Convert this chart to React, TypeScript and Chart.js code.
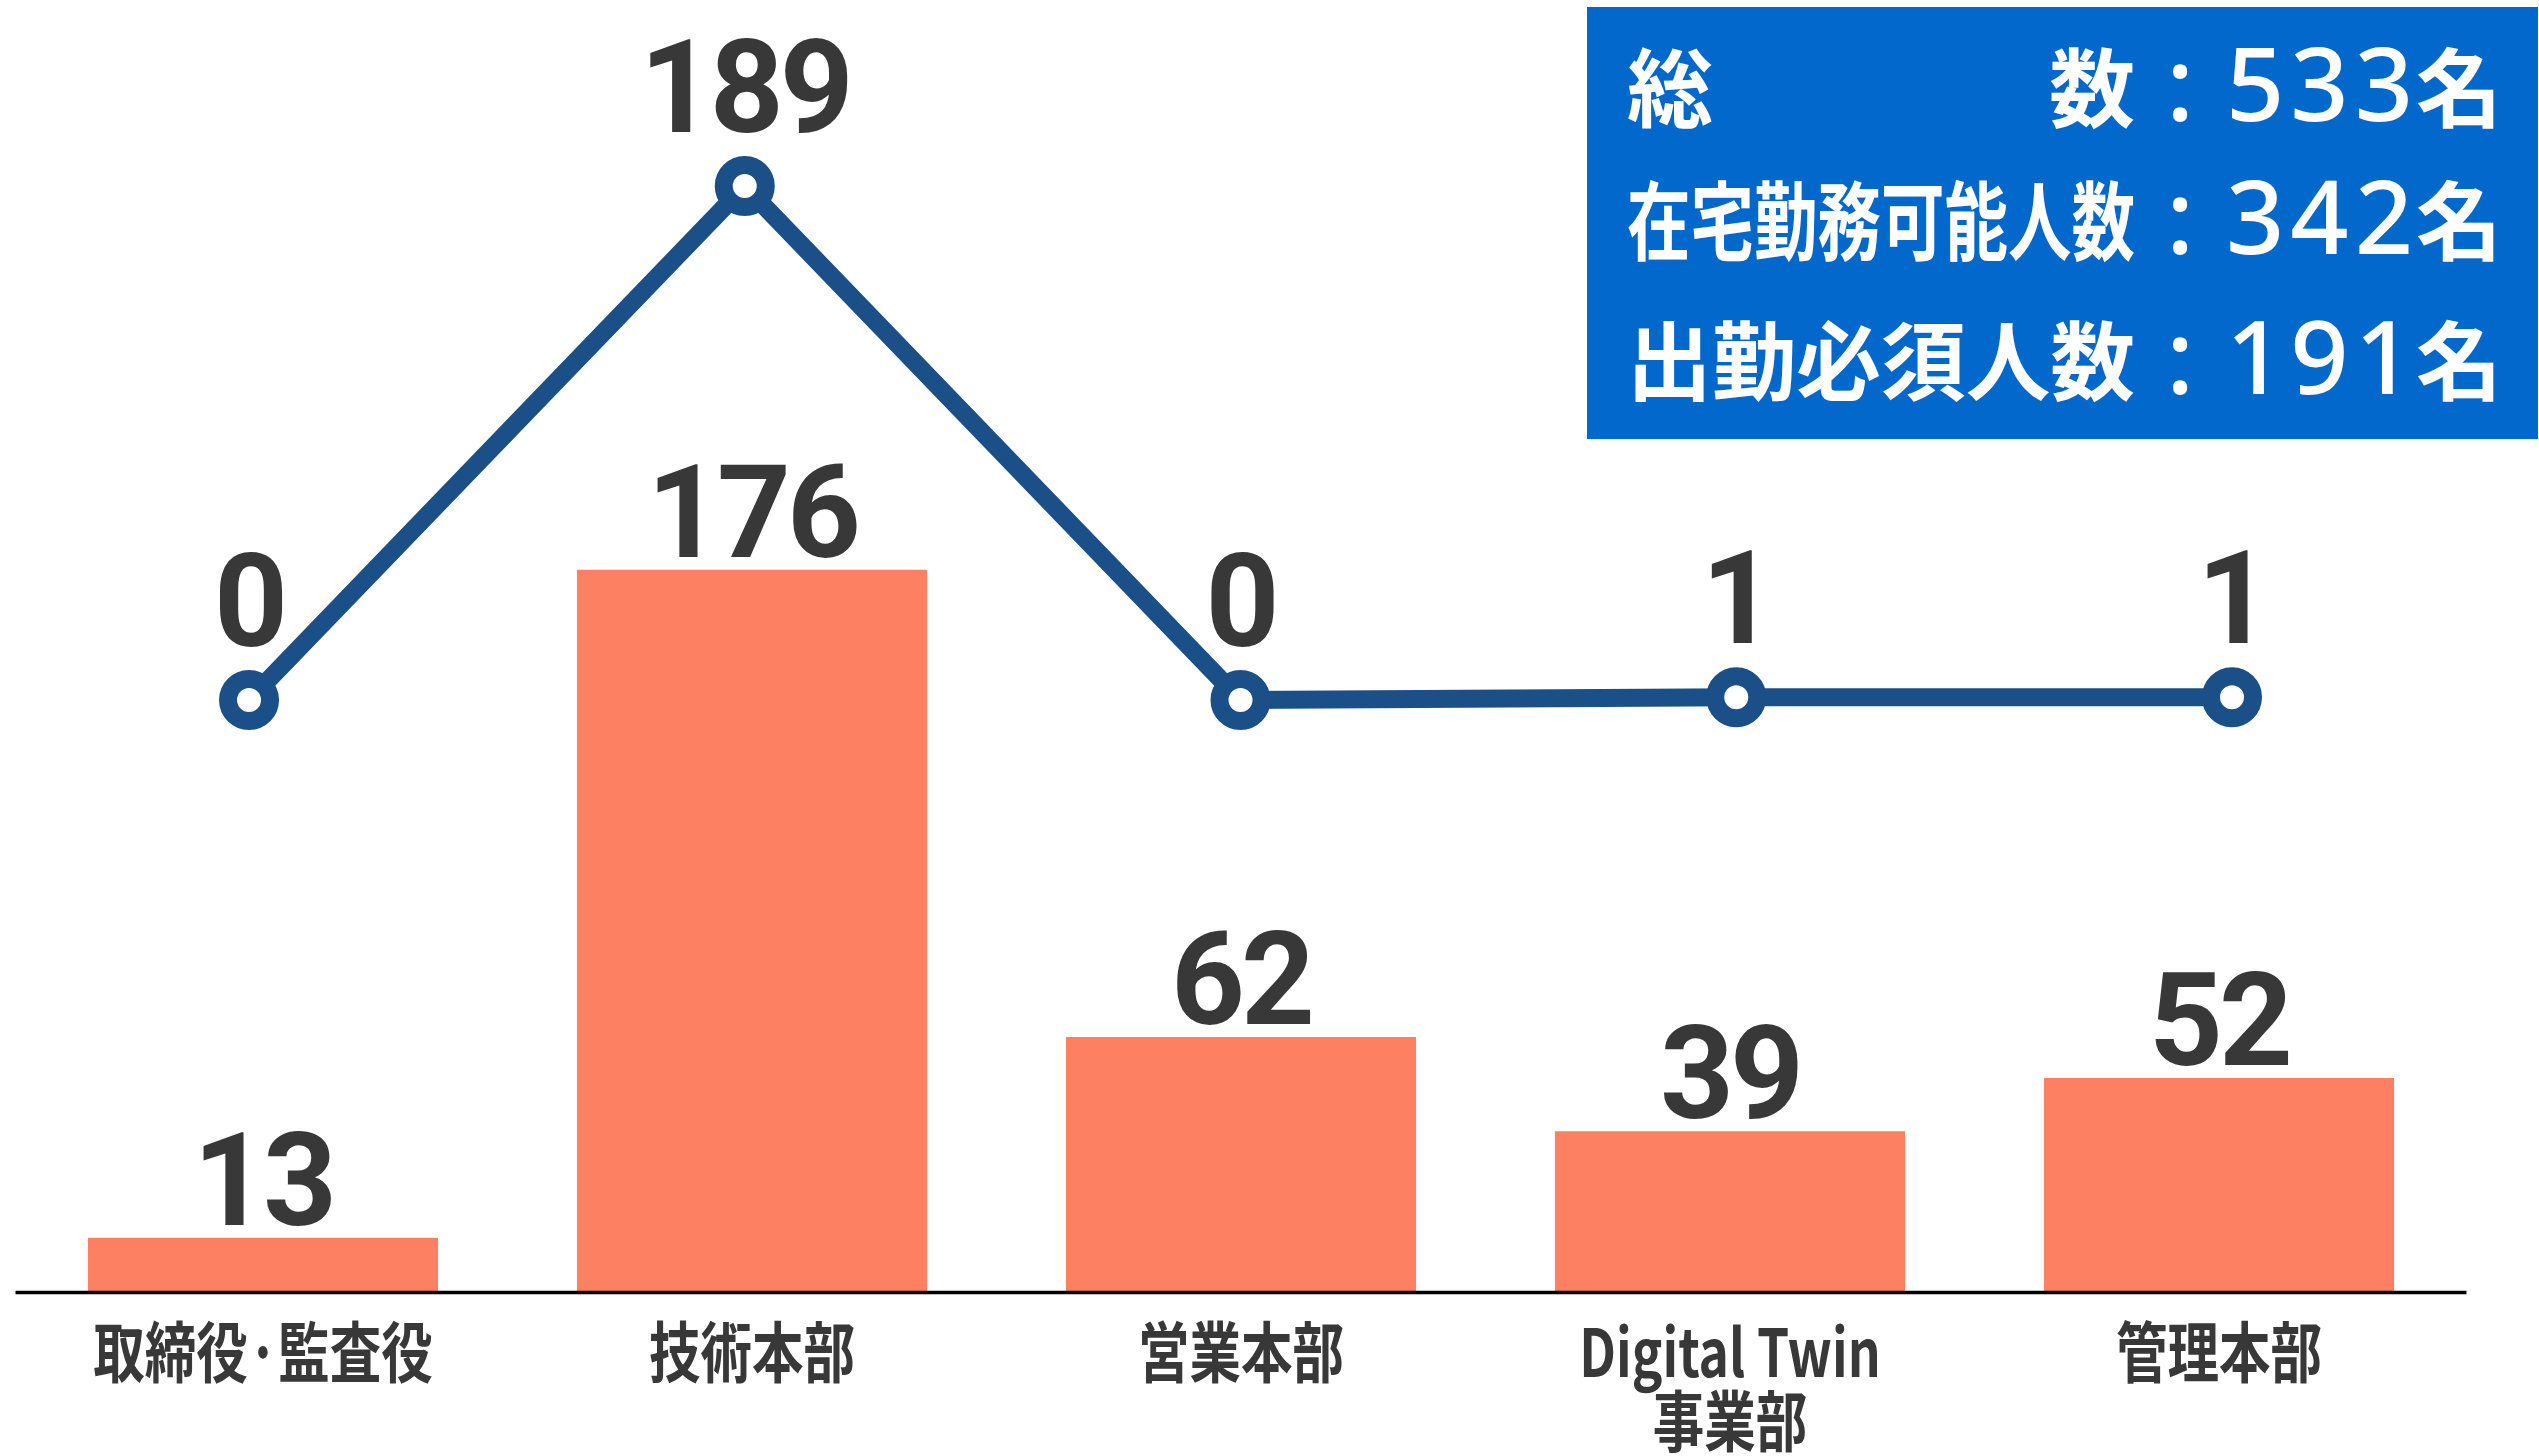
import React, { useEffect, useRef } from "react";
import { Chart, registerables } from "chart.js";

Chart.register(...registerables);

// ---- data ----
const categories: string[][] = [
  ["取締役·監査役"],
  ["技術本部"],
  ["営業本部"],
  ["Digital Twin", "事業部"],
  ["管理本部"],
];
const remoteCapable = [13, 176, 62, 39, 52]; // bars (在宅勤務可能人数)
const onsiteRequired = [0, 189, 0, 1, 1]; // line (出勤必須人数)
const summaryLabels = ["総数", "在宅勤務可能人数", "出勤必須人数"];
const summaryValues = [533, 342, 191];
const summaryUnit = "名";

// ---- styles ----
const BAR_COLOR = "#FD8062";
const LINE_COLOR = "#1A4F88";
const TEXT_COLOR = "#383838";
const BOX_COLOR = "#0368CC";
const NUM_FONT = "bold 129px Roboto, 'Noto Sans', sans-serif";
const TICK_FONT = "bold 66px 'Noto Sans CJK JP', sans-serif";
const BOX_CJK_FONT = "bold 86px 'Noto Sans CJK JP', sans-serif";
const BOX_NUM_FONT = "500 102px 'Noto Sans', 'Open Sans', sans-serif";

const overlayPlugin = {
  id: "overlay",
  afterDatasetsDraw(chart: any) {
    const ctx: CanvasRenderingContext2D = chart.ctx;
    const { left, right } = chart.chartArea;
    const y0 = chart.scales.y.getPixelForValue(0);
    ctx.save();
    // baseline axis
    ctx.strokeStyle = "#000";
    ctx.lineWidth = 3.5;
    ctx.beginPath();
    ctx.moveTo(left - 3, y0 + 1.5);
    ctx.lineTo(right + 3, y0 + 1.5);
    ctx.stroke();

    // value labels
    ctx.fillStyle = TEXT_COLOR;
    ctx.font = NUM_FONT;
    ctx.textAlign = "center";
    ctx.textBaseline = "alphabetic";
    (ctx as any).letterSpacing = "-4px";
    const barMeta = chart.getDatasetMeta(1);
    barMeta.data.forEach((el: any, i: number) => {
      ctx.fillText(String(remoteCapable[i]), el.x, el.y - 13);
    });
    const lineMeta = chart.getDatasetMeta(0);
    lineMeta.data.forEach((el: any, i: number) => {
      ctx.fillText(String(onsiteRequired[i]), el.x, el.y - 54);
    });
    (ctx as any).letterSpacing = "0px";

    // category labels
    ctx.font = TICK_FONT;
    ctx.textBaseline = "middle";
    const xs = chart.scales.x;
    categories.forEach((lines, i) => {
      const x = xs.getPixelForValue(i);
      lines.forEach((ln, j) => {
        const w = ctx.measureText(ln).width;
        ctx.fillText(ln, x, y0 + 61 + j * 69, w * 0.78);
      });
    });

    // summary box
    const W = chart.width;
    const bx = W - 952;
    const by = 7;
    ctx.fillStyle = BOX_COLOR;
    ctx.fillRect(bx, by, 951, 432);
    ctx.fillStyle = "#ffffff";
    const baselines = [114, 247, 387];
    const labelX = bx + 40;
    const labelW = 508;
    summaryLabels.forEach((lab, r) => {
      const yb = by + baselines[r];
      ctx.font = BOX_CJK_FONT;
      ctx.textBaseline = "alphabetic";
      const natural = ctx.measureText(lab).width;
      ctx.textAlign = "left";
      if (natural >= labelW) {
        ctx.fillText(lab, labelX, yb, labelW);
      } else {
        const chars = Array.from(lab);
        const widths = chars.map((c) => ctx.measureText(c).width);
        const gap = (labelW - natural) / (chars.length - 1);
        let cx = labelX;
        chars.forEach((c, k) => {
          ctx.fillText(c, cx, yb);
          cx += widths[k] + gap;
        });
      }
      // colon
      ctx.font = BOX_NUM_FONT;
      ctx.textAlign = "center";
      ctx.fillText(":", bx + 593, yb);
      // number
      ctx.textAlign = "left";
      (ctx as any).letterSpacing = "6px";
      ctx.fillText(String(summaryValues[r]), bx + 639, yb);
      (ctx as any).letterSpacing = "0px";
      // unit
      ctx.font = BOX_CJK_FONT;
      ctx.fillText(summaryUnit, bx + 829, yb);
    });
    ctx.restore();
  },
};

export default function App() {
  const ref = useRef<HTMLCanvasElement | null>(null);
  useEffect(() => {
    if (!ref.current) return;
    const chart = new Chart(ref.current, {
      type: "bar",
      data: {
        labels: categories.map((c) => c.join(" ")),
        datasets: [
          {
            type: "line",
            label: "出勤必須人数",
            data: onsiteRequired.map((v, i) => ({ x: i, y: v })),
            xAxisID: "x2",
            yAxisID: "y2",
            borderColor: LINE_COLOR,
            borderWidth: 18,
            pointRadius: 21,
            pointHoverRadius: 21,
            pointBorderWidth: 18,
            pointBackgroundColor: "#ffffff",
            pointBorderColor: LINE_COLOR,
            tension: 0,
            order: 0,
            clip: false,
          } as any,
          {
            type: "bar",
            label: "在宅勤務可能人数",
            data: remoteCapable,
            xAxisID: "x",
            yAxisID: "y",
            backgroundColor: BAR_COLOR,
            borderWidth: 0,
            grouped: false,
            categoryPercentage: 1,
            barPercentage: 0.716,
            order: 1,
          } as any,
        ],
      },
      options: {
        animation: false,
        responsive: true,
        maintainAspectRatio: false,
        layout: { autoPadding: false, padding: { left: 18.5, right: 75.5, top: 0, bottom: 165 } },
        plugins: { legend: { display: false }, tooltip: { enabled: false } },
        scales: {
          x: { type: "category", display: false, offset: true, grid: { display: false } },
          x2: { type: "linear", display: false, offset: false, min: -0.465, max: 4.467 },
          y: { display: false, min: 0, max: 315 },
          y2: { display: false, min: -217.3, max: 257.4 },
        },
      } as any,
      plugins: [overlayPlugin],
    });
    return () => chart.destroy();
  }, []);
  return (
    <div style={{ position: "fixed", left: 0, top: 0, width: 2539, height: 1456, background: "#fff" }}>
      <canvas ref={ref} />
    </div>
  );
}
